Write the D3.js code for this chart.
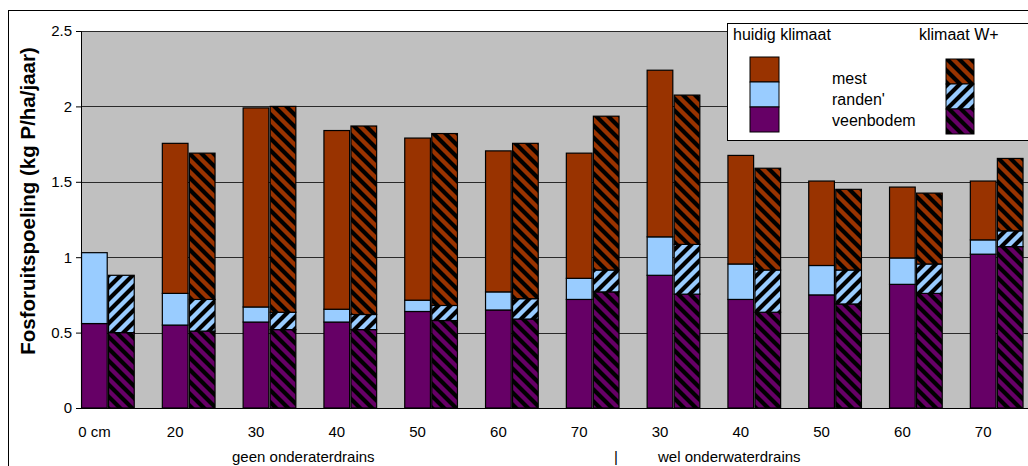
<!DOCTYPE html>
<html><head><meta charset="utf-8">
<script src="https://cdn.jsdelivr.net/npm/d3@7"></script>
<style>
html,body{margin:0;padding:0;background:#fff;overflow:hidden}
text{font-family:Arial,"Liberation Sans",sans-serif}
</style></head>
<body><svg id="c" width="1028" height="466"></svg>
<script>
const categories = ['0 cm','20','30','40','50','60','70','30','40','50','60','70'];
const veenHuidig   = [0.56,0.55,0.57,0.57,0.64,0.65,0.72,0.88,0.72,0.75,0.82,1.02];
const randenHuidig = [0.47,0.21,0.10,0.085,0.075,0.12,0.14,0.255,0.235,0.195,0.175,0.095];
const mestHuidig   = [0,0.995,1.32,1.185,1.075,0.935,0.83,1.105,0.72,0.56,0.47,0.39];
const veenWplus    = [0.50,0.51,0.52,0.52,0.58,0.59,0.77,0.755,0.635,0.69,0.76,1.07];
const randenWplus  = [0.38,0.21,0.115,0.10,0.10,0.135,0.145,0.33,0.28,0.225,0.195,0.105];
const mestWplus    = [0,0.97,1.365,1.25,1.14,1.03,1.02,0.99,0.675,0.535,0.47,0.48];
const yTicks = [0,0.5,1,1.5,2,2.5];
const components = ['veen','randen','mest'];
const legendLabels = ['mest',"randen'",'veenbodem'];
const groupLabels = ['geen onderaterdrains','|','wel onderwaterdrains'];
const yTitle = 'Fosforuitspoeling (kg P/ha/jaar)';

const colors = {mest:'#993300', randen:'#99CCFF', veen:'#660066'};
const svg = d3.select('#c');
const L = 81, T = 31, B = 408, slotsW = 80.8*12;

// outer chart border
svg.append('rect').attr('x',8.5).attr('y',10.5).attr('width',1100).attr('height',600)
  .attr('fill','#fff').attr('stroke','#000').attr('stroke-width',1);

// patterns (period 12px)
const defs = svg.append('defs');
function pat(id, color, dir){
  const p = defs.append('pattern').attr('id',id).attr('patternUnits','userSpaceOnUse')
    .attr('width',12).attr('height',12);
  p.append('rect').attr('width',12).attr('height',12).attr('fill',color);
  const d = dir==='down' ? 'M-3,-3 L15,15 M-3,9 L3,15 M9,-3 L15,3'
                         : 'M-3,15 L15,-3 M-3,3 L3,-3 M9,15 L15,9';
  p.append('path').attr('d',d).attr('stroke','#000').attr('stroke-width',4.2);
}
pat('h-mest', colors.mest, 'down');
pat('h-randen', colors.randen, 'up');
pat('h-veen', colors.veen, 'down');

const y = d3.scaleLinear().domain([0,2.5]).range([B,T]);
const x0 = d3.scaleBand().domain(d3.range(categories.length)).range([L, L+slotsW]).padding(0);
const x1 = d3.scaleBand().domain(['huidig','wplus','gap']).range([0, x0.bandwidth()]).paddingInner(0.05).paddingOuter(0.02);

// plot area
svg.append('rect').attr('x',L).attr('y',T).attr('width',slotsW).attr('height',B-T)
  .attr('fill','#C0C0C0');
// gridlines
svg.append('g').selectAll('line').data(yTicks.slice(1)).join('line')
  .attr('x1',L).attr('x2',L+slotsW).attr('y1',d=>Math.round(y(d))+0.5).attr('y2',d=>Math.round(y(d))+0.5)
  .attr('stroke','#2a2a2a').attr('stroke-width',1.2);

// data rows
const rows = categories.map((c,i)=>({i,
  huidig:{veen:veenHuidig[i], randen:randenHuidig[i], mest:mestHuidig[i]},
  wplus:{veen:veenWplus[i], randen:randenWplus[i], mest:mestWplus[i]}}));
const stack = d3.stack().keys(components);
['huidig','wplus'].forEach(k=>{
  const series = stack(rows.map(r=>r[k]));
  const g = svg.append('g');
  series.forEach(s=>{
    g.append('g').selectAll('rect').data(s).join('rect')
      .attr('x',(d,i)=>x0(i)+x1(k))
      .attr('width',x1.bandwidth())
      .attr('y',d=>y(d[1]))
      .attr('height',d=>Math.max(0,y(d[0])-y(d[1])))
      .attr('display',d=>d[1]-d[0]>0?null:'none')
      .attr('fill',k==='huidig'?colors[s.key]:`url(#h-${s.key})`)
      .attr('stroke','#000').attr('stroke-width',1.2);
  });
});

// axes
const yAxis = svg.append('g').attr('transform',`translate(${L},0)`)
  .call(d3.axisLeft(y).tickValues(yTicks).tickSize(5).tickPadding(4).tickFormat(d3.format('')));
yAxis.select('.domain').attr('stroke','#000');
yAxis.selectAll('line').attr('stroke','#000');
yAxis.selectAll('text').attr('font-size',15).attr('fill','#000');
svg.append('line').attr('x1',L).attr('x2',L+slotsW).attr('y1',B+0.5).attr('y2',B+0.5).attr('stroke','#000');

const xAxis = svg.append('g').attr('transform',`translate(0,${B})`)
  .call(d3.axisBottom(x0).tickSize(0).tickPadding(18).tickFormat(i=>categories[i]));
xAxis.select('.domain').remove();
xAxis.selectAll('.tick').attr('transform',i=>`translate(${x0(i)+x1('huidig')+x1.bandwidth()/2},0)`);
xAxis.selectAll('text').attr('font-size',15).attr('fill','#000');

// group labels
const gx = [232, 614, 658];
svg.append('g').selectAll('text').data(groupLabels).join('text')
  .attr('x',(d,i)=>gx[i]).attr('y',462).attr('font-size',15).text(d=>d);

// y title
svg.append('text').attr('transform','translate(35,201) rotate(-90)').attr('text-anchor','middle')
  .attr('font-size',20.5).attr('font-weight','bold').text(yTitle);

// legend
const lg = svg.append('g');
lg.append('rect').attr('x',727.5).attr('y',23.5).attr('width',400).attr('height',117)
  .attr('fill','#fff').attr('stroke','#000');
lg.append('text').attr('x',733).attr('y',40).attr('font-size',16).text('huidig klimaat');
lg.append('text').attr('x',919).attr('y',40).attr('font-size',16).text('klimaat W+');
const legKeys = ['mest','randen','veen'];
lg.selectAll('.sw1').data(legKeys).join('rect')
  .attr('x',750).attr('y',(d,i)=>57+i*25).attr('width',29).attr('height',25)
  .attr('fill',d=>colors[d]).attr('stroke','#000');
lg.selectAll('.sw2').data(legKeys).join('rect')
  .attr('x',946).attr('y',(d,i)=>59+i*25).attr('width',28).attr('height',25)
  .attr('fill',d=>`url(#h-${d})`).attr('stroke','#000');
lg.selectAll('.lt').data(legendLabels).join('text')
  .attr('x',832).attr('y',(d,i)=>84+i*21).attr('font-size',16).text(d=>d);
</script></body></html>
